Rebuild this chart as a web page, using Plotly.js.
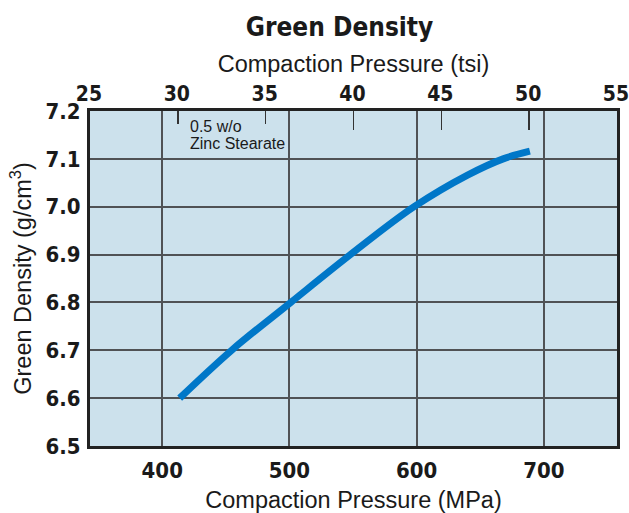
<!DOCTYPE html>
<html>
<head>
<meta charset="utf-8">
<script src="https://cdn.plot.ly/plotly-3.0.1.min.js"></script>
<style>html,body{margin:0;padding:0;background:#fff;}#chart{width:629px;height:513px;}</style>
</head>
<body>
<div id="chart"></div>
<script>
// Data
const pressureMPa = [413.7, 454.5, 501, 548, 598, 640, 668, 689];
const greenDensity = [6.600, 6.700, 6.800, 6.900, 7.000, 7.066, 7.100, 7.116];
const mpaTicks = [400, 500, 600, 700];
const tsiTicks = [25, 30, 35, 40, 45, 50, 55];
const tsiLongTicks = [40, 45, 50];
const densityTicks = [6.5, 6.6, 6.7, 6.8, 6.9, 7.0, 7.1, 7.2];
const noteLines = ['0.5 w/o', 'Zinc Stearate'];

const boldNarrow = 'DejaVu Sans Condensed, Liberation Sans Narrow, Arial Narrow, sans-serif';
const regular = 'Liberation Sans, Arial, Helvetica, sans-serif';
const dark = '#1a1a1a';
const grid = '#505255';

const traces = [
  {
    x: pressureMPa, y: greenDensity, type: 'scatter', mode: 'lines',
    line: {color: '#0077c8', width: 7, shape: 'spline', smoothing: 1},
    xaxis: 'x', yaxis: 'y', hoverinfo: 'skip', showlegend: false
  },
  {x: [25, 55], y: [null, null], type: 'scatter', mode: 'lines', xaxis: 'x2', yaxis: 'y', showlegend: false, hoverinfo: 'skip'},
  {x: [25, 55], y: [null, null], type: 'scatter', mode: 'lines', xaxis: 'x3', yaxis: 'y', showlegend: false, hoverinfo: 'skip'}
];

const tickFont = {family: boldNarrow, size: 22, color: dark, weight: 'bold'};
const topTickFont = {family: boldNarrow, size: 21, color: dark, weight: 'bold'};
const titleFont = {family: regular, size: 23.5, color: dark};

const layout = {
  width: 629, height: 513,
  margin: {l: 90, r: 12, t: 111, b: 67, pad: 0},
  paper_bgcolor: '#ffffff',
  plot_bgcolor: '#cce1ec',
  showlegend: false,
  title: {
    text: '<b>Green Density</b>',
    font: {family: boldNarrow, size: 26, color: dark, weight: 'bold'},
    x: 339.5 / 629, xref: 'container', xanchor: 'center',
    y: 1 - 27 / 513, yref: 'container', yanchor: 'middle'
  },
  xaxis: {
    range: [343.2, 757.5],
    tickvals: mpaTicks,
    ticktext: mpaTicks.map(String),
    showgrid: true, gridcolor: grid, gridwidth: 2,
    zeroline: false,
    showline: true, linecolor: '#222', linewidth: 3, mirror: true,
    ticks: '', ticklabelstandoff: 3,
    tickfont: tickFont,
    title: {text: 'Compaction Pressure (MPa)', font: titleFont, standoff: 10},
    automargin: false, fixedrange: true
  },
  xaxis2: {
    overlaying: 'x', side: 'top', anchor: 'y',
    range: [24.9999, 55.0001],
    tickvals: tsiTicks,
    ticktext: tsiTicks.map(String),
    showgrid: false, zeroline: false, showline: false,
    ticks: 'inside', ticklen: 13, tickwidth: 1.5, tickcolor: '#333',
    ticklabelstandoff: 5, ticklabeloverflow: 'allow', ticklabelshift: -1,
    tickfont: topTickFont,
    title: {text: 'Compaction Pressure (tsi)', font: titleFont, standoff: 2},
    automargin: false, fixedrange: true
  },
  xaxis3: {
    overlaying: 'x', side: 'top', anchor: 'y',
    range: [24.9999, 55.0001],
    tickvals: tsiLongTicks,
    showticklabels: false,
    showgrid: false, zeroline: false, showline: false,
    ticks: 'inside', ticklen: 19, tickwidth: 1.5, tickcolor: '#333',
    automargin: false, fixedrange: true
  },
  yaxis: {
    range: [6.5, 7.2],
    tickvals: densityTicks,
    tickformat: '.1f',
    showgrid: true, gridcolor: grid, gridwidth: 2,
    zeroline: false,
    showline: true, linecolor: '#222', linewidth: 3, mirror: true,
    ticks: '', ticklabelstandoff: 2,
    tickfont: tickFont,
    title: {text: 'Green Density (g/cm<sup>3</sup>)', font: titleFont, standoff: 8},
    automargin: false, fixedrange: true
  },
  annotations: noteLines.map((t, i) => ({
    text: t,
    xref: 'x', yref: 'paper',
    x: 420, y: 1 - (15 + 17.5 * i) / 335,
    xanchor: 'left', yanchor: 'middle', align: 'left',
    showarrow: false,
    font: {family: regular, size: 16, color: dark}
  }))
};

Plotly.newPlot('chart', traces, layout, {displayModeBar: false, staticPlot: true});
</script>
</body>
</html>
